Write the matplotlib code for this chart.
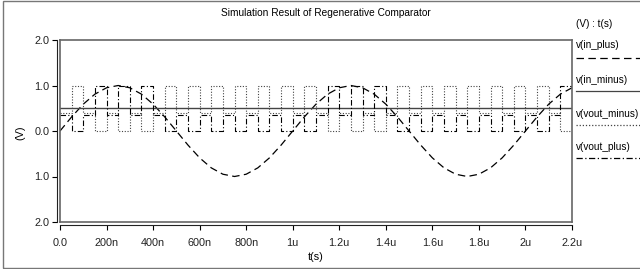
import matplotlib.pyplot as plt
from matplotlib.lines import Line2D
from matplotlib.patches import Rectangle

plt.rcParams['font.family'] = ['Liberation Sans', 'DejaVu Sans']

in_plus_t = list(range(0, 2201, 50))
in_plus_v = [0.0, 0.31, 0.59, 0.81, 0.95, 1.0, 0.95, 0.81, 0.59, 0.31,
             0.0, -0.31, -0.59, -0.81, -0.95, -1.0, -0.95, -0.81, -0.59, -0.31,
             0.0, 0.31, 0.59, 0.81, 0.95, 1.0, 0.95, 0.81, 0.59, 0.31,
             0.0, -0.31, -0.59, -0.81, -0.95, -1.0, -0.95, -0.81, -0.59, -0.31,
             0.0, 0.31, 0.59, 0.81, 0.95]

# v(in_minus) reference level
in_minus_v = 0.5

# comparator: 100 ns clock, reset in first half, decision in second half
clock_start = list(range(0, 2200, 100))
half_cycle = 50
decision = ['M', 'P', 'P', 'P', 'M', 'M', 'M', 'M', 'M', 'M', 'M',
            'P', 'P', 'P', 'M', 'M', 'M', 'M', 'M', 'M', 'M', 'P']
reset_minus = 0.40
reset_plus = 0.36

x_ticks = [0, 200, 400, 600, 800, 1000, 1200, 1400, 1600, 1800, 2000, 2200]
x_labels = ['0.0', '200n', '400n', '600n', '800n', '1u', '1.2u', '1.4u',
            '1.6u', '1.8u', '2u', '2.2u']
y_ticks = [-2, -1, 0, 1, 2]
y_labels = ['2.0', '1.0', '0.0', '1.0', '2.0']

# build step waveforms for the outputs
step_t, minus_v, plus_v = [], [], []
for t0, d in zip(clock_start, decision):
    step_t += [t0, t0 + half_cycle]
    minus_v += [reset_minus, 1.0 if d == 'M' else 0.0]
    plus_v += [reset_plus, 1.0 if d == 'P' else 0.0]
step_t.append(clock_start[-1] + 2 * half_cycle)
minus_v.append(minus_v[-1])
plus_v.append(plus_v[-1])

W, H = 640, 269
fig = plt.figure(figsize=(W / 100, H / 100), dpi=100)
ax = fig.add_axes([60 / W, 1 - 222 / H, 512 / W, 182 / H])

ax.plot(in_plus_t, in_plus_v, color='black', lw=0.9, linestyle=(0, (6, 3.5)))
ax.axhline(in_minus_v, color='#444444', lw=1.0)
ax.plot(step_t, minus_v, drawstyle='steps-post', color='#444444', lw=0.8,
        linestyle=(0, (1, 1.5)))
ax.plot(step_t, plus_v, drawstyle='steps-post', color='black', lw=0.8,
        linestyle=(0, (5, 2, 1, 2)))

ax.set_xlim(0, 2200)
ax.set_ylim(-2, 2)
ax.set_xticks(x_ticks)
ax.set_xticklabels(x_labels)
ax.set_yticks(y_ticks)
ax.set_yticklabels(y_labels)
ax.tick_params(direction='out', length=3.5, width=0.8, labelsize=7.8, pad=6,
               labelcolor='#222222')
ax.tick_params(axis='y', pad=2)

for s in ['top', 'right']:
    ax.spines[s].set_color('#666666')
    ax.spines[s].set_linewidth(1.2)
for s in ['left', 'bottom']:
    ax.spines[s].set_position(('outward', 2))
    ax.spines[s].set_color('#222222')
    ax.spines[s].set_linewidth(0.8)
ax.axvline(0, color='#666666', lw=1.2, clip_on=False)
ax.axhline(-2, color='#666666', lw=1.2, clip_on=False)

fig.text(326 / W, 1 - 13 / H, 'Simulation Result of Regenerative Comparator',
         ha='center', va='center', fontsize=7.3)
fig.text(20 / W, 1 - 133 / H, '(V)', rotation=90, ha='center', va='center',
         fontsize=7.8)
fig.text(316 / W, 1 - 257 / H, 't(s)', ha='center', va='center', fontsize=7.8)

# legend on the right
fig.text(576 / W, 1 - 24 / H, '(V) : t(s)', ha='left', va='center', fontsize=7.2)
legend = [('v(in_plus)', 45, 58, dict(color='black', linestyle=(0, (6, 3.5)))),
          ('v(in_minus)', 80, 91, dict(color='#444444', linestyle='-')),
          ('v(vout_minus)', 114, 125, dict(color='#444444', linestyle=(0, (1, 1.5)))),
          ('v(vout_plus)', 147, 158, dict(color='black', linestyle=(0, (5, 2, 1, 2))))]
for name, ty, ly, style in legend:
    fig.text(576 / W, 1 - ty / H, name, ha='left', va='center', fontsize=7.2)
    fig.add_artist(Line2D([576 / W, 1.0], [1 - ly / H, 1 - ly / H], lw=0.9,
                          transform=fig.transFigure, **style))

fig.add_artist(Rectangle((3 / W, 1 / H), 1.2, 1 - 2 / H, transform=fig.transFigure,
                         fill=False, edgecolor='#777777', lw=1.0))

fig.savefig('out.png', dpi=100)
